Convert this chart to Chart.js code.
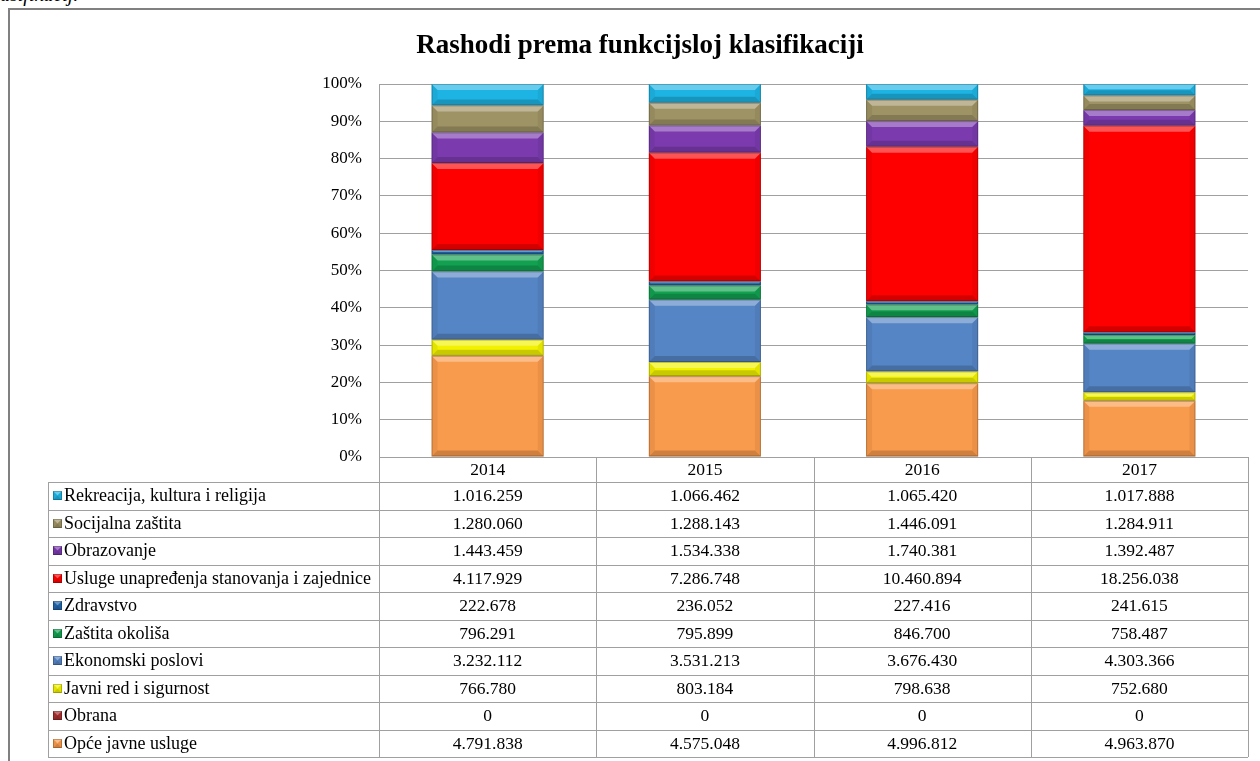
<!DOCTYPE html>
<html lang="hr">
<head>
<meta charset="utf-8">
<title>Rashodi prema funkcijsloj klasifikaciji</title>
<script src="https://cdn.jsdelivr.net/npm/chart.js@4.4.1/dist/chart.umd.min.js"></script>
<style>
  html, body { margin: 0; padding: 0; background: #fff; overflow: hidden; }
  #gore { position: absolute; left: 0; top: -15px; font: italic 20px/19px "Liberation Serif", serif; color: #000; }
  #okvir { position: absolute; left: 8px; top: 8px; width: 1300px; height: 800px; border: 2px solid #808080; box-sizing: border-box; }
  #grafikon { position: absolute; left: 0; top: 0; }
</style>
</head>
<body>
<div id="gore">asifikacij.</div>
<div id="okvir"></div>
<canvas id="grafikon" width="1260" height="761"></canvas>
<script>
// Podaci (tisuće kuna) po godinama
const godine = ['2014', '2015', '2016', '2017'];
const opceJavneUsluge = [4791838, 4575048, 4996812, 4963870];
const obrana = [0, 0, 0, 0];
const javniRed = [766780, 803184, 798638, 752680];
const ekonomskiPoslovi = [3232112, 3531213, 3676430, 4303366];
const zastitaOkolisa = [796291, 795899, 846700, 758487];
const zdravstvo = [222678, 236052, 227416, 241615];
const uslugeStanovanja = [4117929, 7286748, 10460894, 18256038];
const obrazovanje = [1443459, 1534338, 1740381, 1392487];
const socijalnaZastita = [1280060, 1288143, 1446091, 1284911];
const rekreacija = [1016259, 1066462, 1065420, 1017888];

// Redoslijed od dna stupca prema vrhu
const nazivi = [
    'Opće javne usluge', 'Obrana', 'Javni red i sigurnost', 'Ekonomski poslovi',
    'Zaštita okoliša', 'Zdravstvo', 'Usluge unapređenja stanovanja i zajednice',
    'Obrazovanje', 'Socijalna zaštita', 'Rekreacija, kultura i religija'
];
const serije = [
    opceJavneUsluge, obrana, javniRed, ekonomskiPoslovi, zastitaOkolisa,
    zdravstvo, uslugeStanovanja, obrazovanje, socijalnaZastita, rekreacija
];
const boje = [
    '#F99B4C', '#A83030', '#F2F200', '#5585C5', '#12A150',
    '#2166AA', '#FF0000', '#7B3BAF', '#9E9364', '#1DB4E4'
];

const FONT = '"Liberation Serif", "Times New Roman", serif';

// Ukupno po godini, za 100% stupce
const ukupno = godine.map((g, i) => serije.reduce((s, niz) => s + niz[i], 0));

function formatiraj(n) {
    return n.toString().replace(/\B(?=(\d{3})+(?!\d))/g, '.');
}

// Crta "bevel" efekt preko pravokutnika
function bevel(ctx, l, t, r, b) {
    const h = b - t, w = r - l;
    if (h < 0.5) return;
    const s = Math.min(6, h / 2.2, w / 2);
    const poly = (pts, boja) => {
        ctx.fillStyle = boja;
        ctx.beginPath();
        ctx.moveTo(pts[0], pts[1]);
        for (let k = 2; k < pts.length; k += 2) ctx.lineTo(pts[k], pts[k + 1]);
        ctx.closePath();
        ctx.fill();
    };
    poly([l, t, r, t, r - s, t + s, l + s, t + s], 'rgba(255,255,255,0.33)');
    poly([l, b, r, b, r - s, b - s, l + s, b - s], 'rgba(0,0,0,0.17)');
    poly([l, t, l + s, t + s, l + s, b - s, l, b], 'rgba(0,0,0,0.06)');
    poly([r, t, r - s, t + s, r - s, b - s, r, b], 'rgba(0,0,0,0.06)');
    ctx.strokeStyle = 'rgba(0,0,0,0.22)';
    ctx.lineWidth = 1;
    ctx.strokeRect(l + 0.5, t + 0.5, Math.max(w - 1, 0), Math.max(h - 1, 0));
}

const bevelPlugin = {
    id: 'bevel',
    afterDatasetsDraw(chart) {
        const ctx = chart.ctx;
        ctx.save();
        chart.data.datasets.forEach((ds, d) => {
            chart.getDatasetMeta(d).data.forEach(el => {
                const l = el.x - el.width / 2, r = el.x + el.width / 2;
                const t = Math.min(el.y, el.base), b = Math.max(el.y, el.base);
                bevel(ctx, l, t, r, b);
            });
        });
        ctx.restore();
    }
};

// Tablica s podacima ispod grafikona
const tablicaPlugin = {
    id: 'tablica',
    afterDraw(chart) {
        const ctx = chart.ctx;
        const area = chart.chartArea;
        const x = chart.scales.x;
        const lijevo = 48;
        const zaglavlje = 25;
        const visinaReda = 27.5;
        const vrh = area.bottom;
        const dnoZag = vrh + zaglavlje;
        const redovi = nazivi.length;
        const dno = dnoZag + redovi * visinaReda;
        const sirinaStupca = (area.right - area.left) / godine.length;
        const px = v => Math.round(v) + 0.5;

        ctx.save();
        ctx.strokeStyle = '#a0a0a0';
        ctx.lineWidth = 1;
        ctx.beginPath();
        for (let r = 0; r <= redovi; r++) {
            const y = px(dnoZag + r * visinaReda);
            ctx.moveTo(lijevo, y);
            ctx.lineTo(area.right, y);
        }
        ctx.moveTo(px(lijevo), dnoZag);
        ctx.lineTo(px(lijevo), dno);
        for (let i = 0; i <= godine.length; i++) {
            const xx = px(area.left + i * sirinaStupca);
            ctx.moveTo(xx, vrh);
            ctx.lineTo(xx, dno);
        }
        ctx.stroke();

        ctx.fillStyle = '#000';
        ctx.font = '17.5px ' + FONT;
        ctx.textBaseline = 'middle';
        ctx.textAlign = 'center';
        chart.data.labels.forEach((g, i) => {
            ctx.fillText(g, x.getPixelForValue(i), vrh + zaglavlje / 2 + 1);
        });

        // redovi od vrha: obrnuto od redoslijeda slaganja
        for (let r = 0; r < redovi; r++) {
            const s = redovi - 1 - r;
            const yc = dnoZag + r * visinaReda + visinaReda / 2;
            const kl = 53, kt = Math.round(yc - 4.5);
            ctx.fillStyle = boje[s];
            ctx.fillRect(kl, kt, 9, 9);
            bevel(ctx, kl, kt, kl + 9, kt + 9);
            ctx.fillStyle = '#000';
            ctx.textAlign = 'left';
            ctx.font = '18px ' + FONT;
            ctx.fillText(nazivi[s], 64, yc + 1);
            ctx.textAlign = 'center';
            ctx.font = '17.5px ' + FONT;
            serije[s].forEach((v, i) => {
                ctx.fillText(formatiraj(v), x.getPixelForValue(i), yc + 1);
            });
        }
        ctx.restore();
    }
};

new Chart(document.getElementById('grafikon').getContext('2d'), {
    type: 'bar',
    data: {
        labels: godine,
        datasets: serije.map((niz, s) => ({
            label: nazivi[s],
            data: niz.map((v, i) => v / ukupno[i] * 100),
            backgroundColor: boje[s],
            borderWidth: 0,
            barPercentage: 0.516,
            categoryPercentage: 1
        }))
    },
    options: {
        responsive: false,
        animation: false,
        layout: { padding: { left: 32, right: 12, top: 0, bottom: 304 } },
        plugins: {
            legend: { display: false },
            tooltip: { enabled: false },
            title: {
                display: true,
                text: 'Rashodi prema funkcijsloj klasifikaciji',
                color: '#000',
                font: { family: FONT, size: 27, weight: 'bold' },
                padding: { top: 30, bottom: 21.6 }
            }
        },
        scales: {
            x: {
                stacked: true,
                display: false
            },
            y: {
                stacked: true,
                min: 0,
                max: 100,
                ticks: {
                    stepSize: 10,
                    padding: 17,
                    color: '#000',
                    font: { family: FONT, size: 17 },
                    callback: v => v + '%'
                },
                grid: { color: '#a0a0a0', drawTicks: false },
                border: { color: '#a0a0a0' },
                afterFit(scale) { scale.width = 347; }
            }
        }
    },
    plugins: [bevelPlugin, tablicaPlugin]
});
</script>
</body>
</html>
